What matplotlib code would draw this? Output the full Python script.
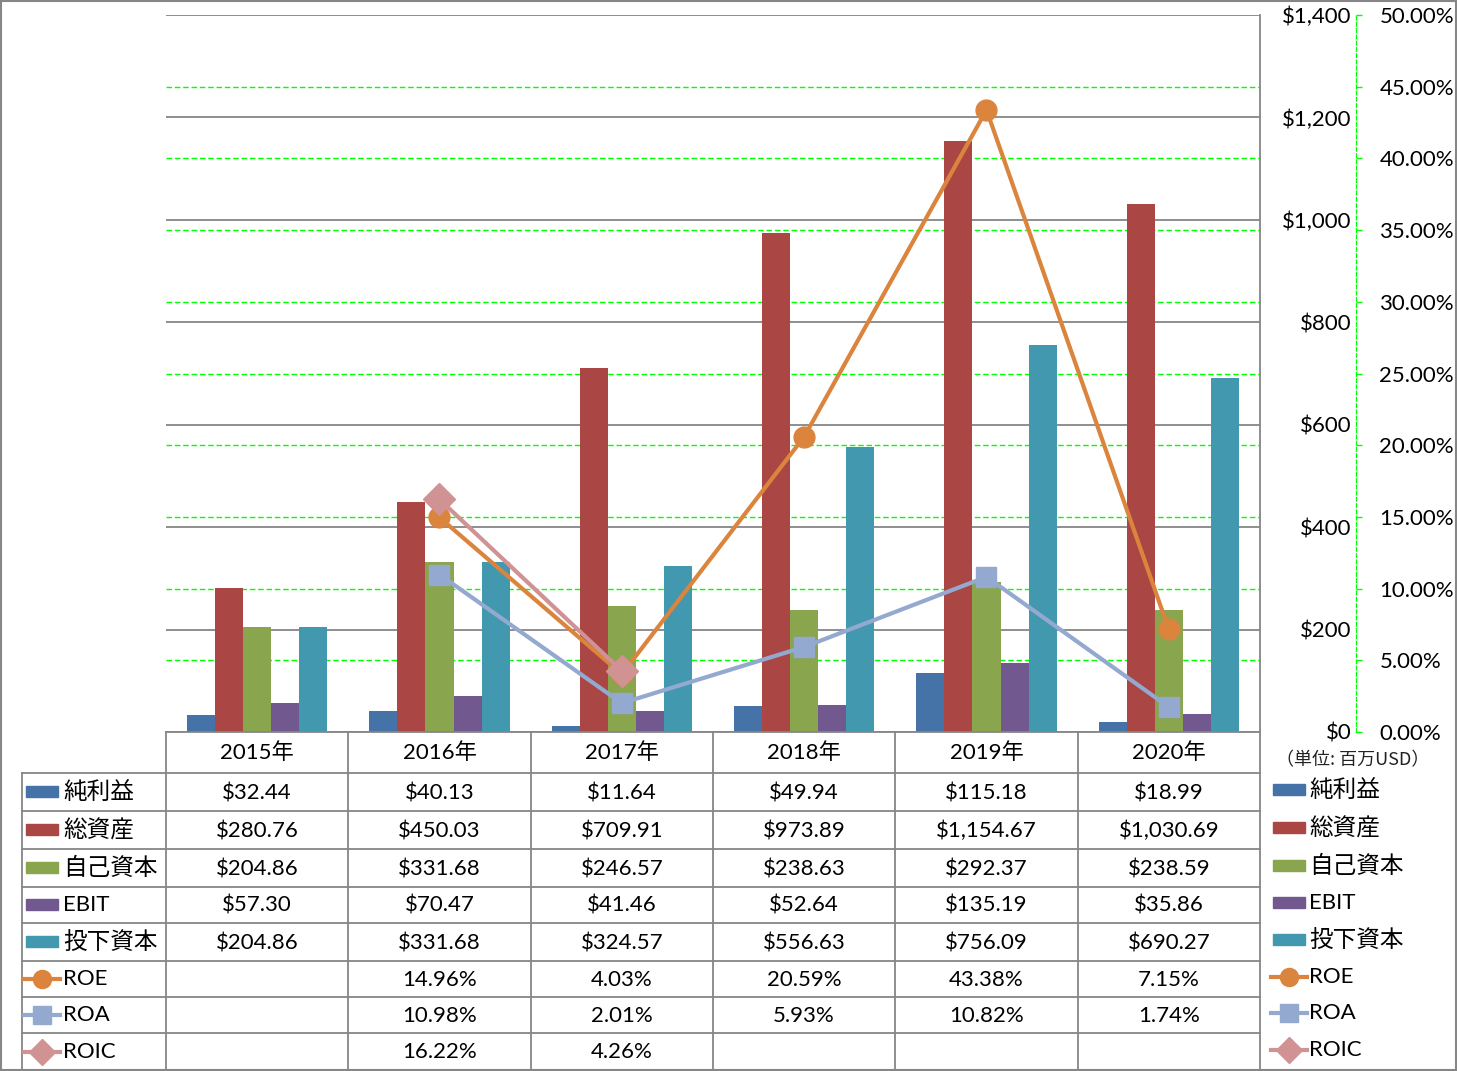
import numpy as np
import matplotlib
matplotlib.use("Agg")
import matplotlib.pyplot as plt
from matplotlib.lines import Line2D
from matplotlib.patches import Rectangle
from matplotlib.transforms import blended_transform_factory

plt.rcParams['font.family'] = ['Lato', 'Noto Sans CJK JP']

# data
years = ['2015年', '2016年', '2017年', '2018年', '2019年', '2020年']
net_income = [32.44, 40.13, 11.64, 49.94, 115.18, 18.99]
total_assets = [280.76, 450.03, 709.91, 973.89, 1154.67, 1030.69]
equity = [204.86, 331.68, 246.57, 238.63, 292.37, 238.59]
ebit = [57.30, 70.47, 41.46, 52.64, 135.19, 35.86]
invested_capital = [204.86, 331.68, 324.57, 556.63, 756.09, 690.27]
roe = [np.nan, 14.96, 4.03, 20.59, 43.38, 7.15]
roa = [np.nan, 10.98, 2.01, 5.93, 10.82, 1.74]
roic = [np.nan, 16.22, 4.26, np.nan, np.nan, np.nan]

bar_names = ['純利益', '総資産', '自己資本', 'EBIT', '投下資本']
bar_series = [net_income, total_assets, equity, ebit, invested_capital]
bar_colors = ['#4572A7', '#AA4643', '#89A54E', '#71588F', '#4198AF']

line_names = ['ROE', 'ROA', 'ROIC']
line_series = [roe, roa, roic]
line_colors = ['#DB843D', '#93A9CF', '#D09293']
line_markers = ['o', 's', 'D']

usd_ticks = list(range(0, 1401, 200))
pct_ticks = list(range(0, 51, 5))

# layout in pixels
W, H = 1457, 1071
L, R, T, B = 166, 1260, 15, 732
GRAY = '#868686'
GREEN = '#00FF00'
FS = 16

fig = plt.figure(figsize=(W / 100, H / 100), dpi=100)

# overlay for table / legend / border (pixel coordinates)
tab = fig.add_axes([0, 0, 1, 1])
tab.set_xlim(0, W)
tab.set_ylim(H, 0)
tab.axis('off')

ax = fig.add_axes([L / W, 1 - B / H, (R - L) / W, (B - T) / H])
ax2 = ax.twinx()

x = np.arange(len(years))
bw = 0.1536
for j, (vals, col) in enumerate(zip(bar_series, bar_colors)):
    ax.bar(x + (j - 2) * bw, vals, width=bw, color=col, zorder=2)

# green dashed gridlines of the secondary axis, behind the bars
trans = blended_transform_factory(ax.transAxes, ax2.transData)
for t in pct_ticks[1:-1]:
    ax.add_line(Line2D([0, 1], [t, t], transform=trans, color=GREEN, lw=1,
                       dashes=(4, 2), zorder=1))

ax.set_xlim(-0.5, 5.5)
ax.set_ylim(0, 1400)
ax.set_xticks([])
ax.set_yticks(usd_ticks)
ax.set_yticklabels([f"${v:,}" for v in usd_ticks])
ax.yaxis.tick_right()
ax.tick_params(axis='y', length=0, pad=66, labelsize=FS)
plt.setp(ax.get_yticklabels(), ha='right')
ax.yaxis.grid(True, color=GRAY, lw=1.3)
ax.set_axisbelow(True)
for s in ['top', 'left']:
    ax.spines[s].set_visible(False)
for s in ['right', 'bottom']:
    ax.spines[s].set_color(GRAY)
    ax.spines[s].set_linewidth(1.3)

for vals, col, mk in zip(line_series, line_colors, line_markers):
    ax2.plot(x, vals, color=col, lw=3, marker=mk, ms=15 if mk != 'D' else 16,
             mec=col, mfc=col, zorder=3)
ax2.set_ylim(0, 50)
ax2.set_yticks(pct_ticks)
ax2.set_yticklabels([f"{v:.2f}%" for v in pct_ticks])
ax2.tick_params(axis='y', color=GREEN, length=4, width=1, pad=13,
                labelsize=FS, labelcolor='black')
for s in ['top', 'left', 'bottom']:
    ax2.spines[s].set_visible(False)
ax2.spines['right'].set_position(('outward', 69))
ax2.spines['right'].set_color(GREEN)
ax2.spines['right'].set_linestyle((0, (3, 2)))
ax2.spines['right'].set_linewidth(0.9)

# data table
col_w = (R - L) / len(years)
row_edges = [773, 811, 849, 887, 923, 961, 997, 1033, 1070]
for y in row_edges[:-1]:
    tab.plot([22, R], [y, y], color=GRAY, lw=1.3)
tab.plot([22, 22], [773, 1070], color=GRAY, lw=1.3)
for k in range(len(years) + 1):
    xx = L + k * col_w
    tab.plot([xx, xx], [B, 1070], color=GRAY, lw=1.3)

for i, yr in enumerate(years):
    tab.text(L + (i + 0.5) * col_w, 753, yr, ha='center', va='center', fontsize=FS)

row_names = bar_names + line_names
row_vals = bar_series + line_series
for r, (name, vals) in enumerate(zip(row_names, row_vals)):
    yc = (row_edges[r] + row_edges[r + 1]) / 2
    is_pct = r >= len(bar_names)
    for i, v in enumerate(vals):
        if np.isnan(v):
            continue
        s = f"{v:.2f}%" if is_pct else f"${v:,.2f}"
        tab.text(L + (i + 0.5) * col_w, yc + 1, s, ha='center', va='center', fontsize=FS)
    fs = FS if name.isascii() else 17
    for kx, tx, dy in [(26, 63, 0), (1273, 1309, -2)]:
        if not is_pct:
            col = bar_colors[r]
            tab.add_patch(Rectangle((kx, yc + dy - 6), 32, 11, color=col))
        else:
            li = r - len(bar_names)
            col = line_colors[li]
            tab.plot([kx - 2, kx + 34], [yc + dy, yc + dy], color=col, lw=3)
            tab.plot([kx + 16], [yc + dy], marker=line_markers[li], ms=13,
                     color=col)
        tab.text(tx, yc + dy, name, ha='left', va='center', fontsize=fs)

tab.text(1276, 760, '（単位: 百万USD）', ha='left', va='center', fontsize=13,
         family=['Noto Sans CJK JP'], color='#222222')

# outer border
tab.add_patch(Rectangle((1, 1), W - 2.5, H - 2.5, fill=False, ec=GRAY, lw=1.5))

fig.savefig('out.png', dpi=100)
